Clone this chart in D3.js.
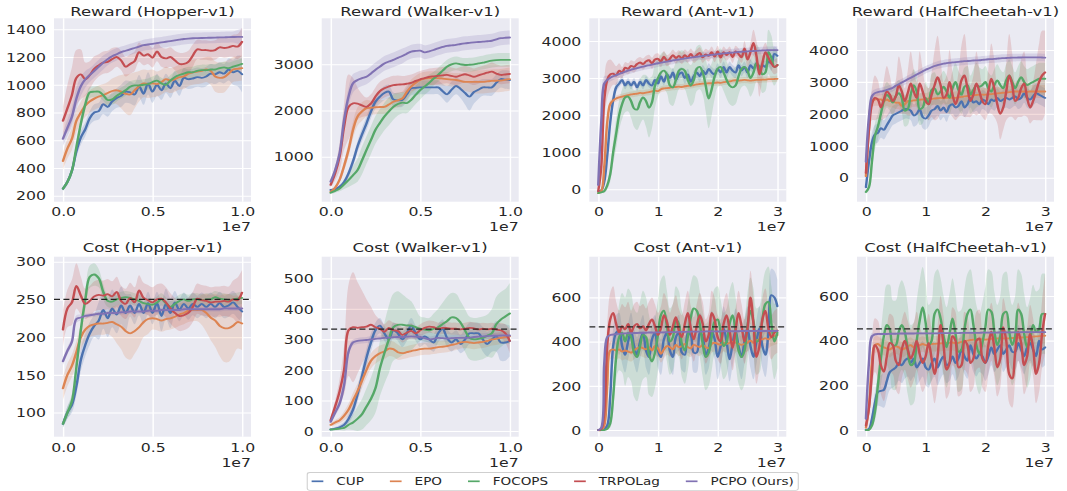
<!DOCTYPE html>
<html><head><meta charset="utf-8">
<script src="https://cdn.jsdelivr.net/npm/d3@7"></script>
<style>html,body{margin:0;padding:0;background:#fff;overflow:hidden}</style>
</head><body>
<script>
// ---------------- DATA ----------------
const seriesNames = ["CUP","EPO","FOCOPS","TRPOLag","PCPO (Ours)"];
const seriesColors = ["#4C72B0","#DD8452","#55A868","#C44E52","#8172B3"];
const panelTitles = ["Reward (Hopper-v1)","Reward (Walker-v1)","Reward (Ant-v1)","Reward (HalfCheetah-v1)",
                     "Cost (Hopper-v1)","Cost (Walker-v1)","Cost (Ant-v1)","Cost (HalfCheetah-v1)"];
const xTicksShort = [0, 0.5, 1.0];
const xLabelsShort = ["0.0","0.5","1.0"];
const xTicksLong = [0, 1, 2, 3];
const xLabelsLong = ["0","1","2","3"];
const offsetLabel = "1e7";
const yTicksRHop = [200,400,600,800,1000,1200,1400];
const yTicksRWalk = [1000,2000,3000];
const yTicksRAnt = [0,1000,2000,3000,4000];
const yTicksRHC = [0,1000,2000,3000,4000];
const yTicksCHop = [100,150,200,250,300];
const yTicksCWalk = [0,100,200,300,400,500];
const yTicksCAnt = [0,200,400,600];
const yTicksCHC = [0,200,400,600];
const costLimits = [250, 334, 467, 453];

// Reward Hopper (step 0.025e7)
const rHopCUP = [250,300,380,520,620,680,760,800,810,860,840,880,905,920,950,945,930,990,935,1010,950,1000,960,1010,975,1030,990,1050,1040,1045,1055,1050,1060,1080,1075,1090,1080,1110,1090,1100,1075];
const rHopCUPsd = [15,20,30,40,50,50,50,60,60,70,70,70,70,80,80,80,80,80,80,80,80,80,70,70,70,70,70,70,70,70,70,70,70,70,70,70,70,80,90,110,130];
const rHopEPO = [450,540,610,740,800,850,880,900,915,925,940,955,960,950,935,930,960,990,1010,1005,1010,1005,1020,1040,1030,1040,1055,1060,1080,1090,1095,1100,1110,1100,1060,1050,1055,1080,1110,1115,1120];
const rHopEPOsd = [60,70,80,80,80,80,80,80,80,80,80,90,100,120,140,150,130,110,100,100,100,90,90,90,90,90,90,90,90,90,90,90,90,100,110,110,110,100,90,90,90];
const rHopFOC = [250,300,380,550,720,860,945,950,950,925,890,895,920,940,960,985,995,995,1000,1005,1020,1030,1010,1000,1030,1055,1070,1080,1090,1090,1100,1105,1105,1110,1110,1120,1125,1120,1130,1140,1150];
const rHopFOCsd = [15,20,30,40,40,40,40,40,40,40,40,40,40,40,40,40,40,40,40,40,40,40,40,40,40,40,40,40,40,40,40,40,40,40,40,40,40,40,40,40,40];
const rHopTRP = [740,830,925,1050,1075,1040,1070,1115,1140,1160,1165,1185,1200,1175,1130,1150,1170,1235,1210,1220,1195,1240,1200,1190,1200,1175,1150,1150,1165,1210,1255,1250,1250,1245,1250,1270,1265,1270,1280,1275,1310];
const rHopTRPsd = [100,170,200,200,180,120,100,90,80,80,80,80,70,70,70,70,70,70,70,70,70,70,70,70,70,70,80,80,80,80,70,70,70,70,70,70,70,70,80,90,100];
const rHopPCPO = [610,690,770,900,990,1040,1070,1100,1130,1160,1185,1205,1220,1235,1245,1255,1265,1275,1285,1290,1295,1300,1305,1310,1315,1320,1325,1330,1333,1335,1336,1337,1338,1339,1340,1341,1342,1343,1344,1345,1345];
const rHopPCPOsd = [50,60,70,80,70,60,50,50,50,50,45,45,45,40,40,40,40,40,40,40,40,40,40,40,40,40,40,40,40,40,40,40,40,40,40,40,40,40,40,50,60];

// Reward Walker (step 0.025e7)
const rWalkCUP = [280,300,350,450,640,900,1220,1480,1720,1980,2190,2300,2380,2410,2240,2220,2230,2350,2480,2490,2500,2500,2500,2500,2500,2420,2350,2450,2530,2470,2380,2300,2400,2450,2500,2500,2500,2600,2680,2670,2660];
const rWalkCUPsd = [30,30,40,60,80,100,120,140,150,150,150,150,150,150,150,150,150,150,150,150,150,150,150,150,150,160,180,180,180,200,250,300,250,200,180,180,180,180,180,200,200];
const rWalkEPO = [240,330,500,800,1150,1580,1870,1980,2050,2060,2070,2075,2080,2130,2190,2220,2260,2400,2520,2600,2660,2690,2700,2700,2700,2690,2680,2670,2660,2640,2620,2620,2620,2620,2620,2630,2640,2645,2650,2665,2680];
const rWalkEPOsd = [30,40,60,100,150,180,200,200,180,150,150,150,150,150,150,150,150,150,150,150,150,150,150,150,150,150,150,150,150,170,200,220,250,250,250,250,250,250,250,250,250];
const rWalkFOC = [220,260,310,400,495,600,710,920,1145,1360,1580,1730,1870,1980,2080,2140,2170,2160,2230,2340,2440,2520,2600,2690,2770,2860,2950,3000,3020,3000,2985,2990,3000,3020,3035,3060,3080,3090,3095,3095,3095];
const rWalkFOCsd = [30,40,60,100,150,200,250,300,300,300,300,300,300,300,280,250,230,220,200,200,200,180,180,150,150,150,150,150,150,150,150,150,150,150,150,150,150,150,150,150,150];
const rWalkTRP = [390,640,1000,1650,2080,2155,2150,2110,2080,2150,2300,2420,2480,2520,2550,2560,2565,2580,2600,2640,2675,2700,2730,2740,2750,2760,2770,2750,2730,2760,2785,2760,2730,2760,2790,2820,2840,2800,2770,2780,2790];
const rWalkTRPsd = [60,150,300,500,700,550,350,250,200,200,200,200,200,200,200,200,180,180,180,180,180,180,180,180,180,180,180,180,180,180,180,180,180,180,180,180,200,200,200,200,200];
const rWalkPCPO = [460,710,1070,1795,2300,2590,2660,2700,2730,2800,2880,2950,3020,3060,3095,3140,3180,3230,3275,3290,3295,3260,3280,3310,3345,3375,3400,3410,3420,3440,3455,3465,3475,3482,3490,3500,3510,3540,3565,3575,3580];
const rWalkPCPOsd = [60,80,100,150,200,200,180,170,160,160,160,160,160,160,160,160,160,150,150,150,150,150,150,150,150,150,150,150,150,150,150,150,150,150,150,150,150,150,150,150,150];

// Reward Ant (step 0.05e7)
const rAntCUP = [-50,-30,200,900,1800,2400,2750,2850,2950,2800,2900,2800,2900,2750,2900,2800,2950,2850,2800,2950,2850,3050,2900,3100,3000,3150,2950,3100,3150,3000,3100,2900,3050,3150,3050,3200,3100,3250,3150,3100,3250,3150,3300,3150,3300,3200,3150,3350,3200,3300,3150,3350,3250,3400,3200,3350,3300,3450,3400,3650,3600];
const rAntCUPsd = [20,20,50,100,150,150,120,100,100,100,100,100,100,100,100,100,100,100,100,100,100,100,100,100,100,120,150,150,150,150,150,150,150,150,150,150,150,150,150,150,150,150,150,150,150,150,150,150,150,150,150,150,150,150,150,150,150,150,200,200,200];
const rAntEPO = [-100,-50,600,1800,2300,2400,2450,2480,2500,2520,2540,2560,2570,2580,2600,2590,2610,2620,2640,2660,2650,2700,2720,2730,2740,2750,2760,2770,2760,2780,2790,2800,2810,2830,2840,2850,2850,2860,2860,2870,2880,2870,2890,2900,2910,2930,2940,2930,2940,2950,2940,2930,2940,2950,2950,2960,2960,2970,2970,2975,2980];
const rAntEPOsd = [20,50,100,150,100,80,80,80,80,80,80,80,80,80,80,80,80,80,80,80,80,80,80,80,80,80,80,80,80,80,80,80,80,80,80,80,80,80,80,80,80,80,80,80,80,80,80,80,80,80,80,80,80,80,80,80,80,80,80,80,80];
const rAntFOC = [-100,-80,-50,100,400,1000,1500,2000,2300,2480,2500,2380,2180,2150,2350,2480,2380,2200,2350,2800,3000,3150,3200,3100,2800,2750,2950,3200,3250,3200,2950,2800,2950,3250,3300,3150,2800,2450,2700,3050,3250,3300,3150,2950,2800,2750,2800,3050,3250,3300,3200,3000,3150,3400,3300,3100,3150,3700,3550,3300,3350];
const rAntFOCsd = [20,20,50,100,200,300,400,400,400,400,400,450,500,550,600,600,700,800,700,600,500,500,500,500,500,500,500,500,500,500,500,550,600,600,600,600,700,800,700,600,500,500,500,500,500,500,500,500,500,500,500,500,500,500,500,500,500,600,600,500,400];
const rAntTRP = [-50,600,2400,2950,3100,3120,3070,3200,3150,3280,3250,3330,3300,3380,3420,3380,3450,3480,3400,3500,3520,3450,3580,3470,3520,3620,3540,3600,3530,3620,3560,3650,3560,3620,3680,3560,3640,3600,3700,3580,3720,3550,3700,3620,3700,3560,3720,3650,3560,3800,3500,3700,3950,3600,3100,3400,3700,3550,3400,3300,3350];
const rAntTRPsd = [50,300,500,500,400,300,250,200,150,150,150,150,150,150,150,150,150,150,150,150,150,150,150,150,150,150,150,150,150,150,150,150,150,150,150,150,150,150,150,150,150,150,150,150,150,150,150,150,150,200,200,250,350,400,600,400,250,200,200,200,200];
const rAntPCPO = [120,1800,2850,2950,3010,3050,3080,3110,3140,3170,3200,3225,3250,3270,3290,3310,3330,3345,3360,3380,3400,3415,3430,3445,3460,3475,3490,3500,3515,3530,3540,3550,3565,3575,3585,3595,3605,3615,3625,3635,3645,3655,3665,3672,3680,3688,3695,3702,3710,3715,3720,3725,3730,3735,3740,3745,3748,3750,3752,3755,3755];
const rAntPCPOsd = [50,300,200,120,100,100,100,100,100,100,100,100,100,100,100,100,100,100,100,100,100,100,100,100,100,100,100,100,100,100,100,100,100,100,100,100,100,100,100,100,100,100,100,100,100,100,100,100,100,100,100,100,100,100,100,100,100,100,100,100,100];

// Reward HalfCheetah (step 0.05e7)
const rHCCUP = [-300,500,1100,1350,1400,1550,1500,1650,1800,1950,2000,2050,2100,2150,2150,2100,1950,2000,2150,1900,1850,1950,2100,2150,2250,2100,2200,2050,2250,2300,2200,2250,2400,2200,2300,2500,2350,2400,2300,2450,2400,2300,2450,2400,2500,2400,2450,2500,2450,2500,2550,2450,2500,2650,2500,2450,2550,2650,2600,2550,2500];
const rHCCUPsd = [100,200,300,300,300,300,300,300,300,300,300,300,300,300,300,300,350,350,350,350,350,350,300,300,300,300,300,300,300,300,300,300,300,300,300,300,300,300,300,300,300,300,300,300,300,300,300,300,300,300,300,300,300,300,300,300,300,300,300,300,300];
const rHCEPO = [50,1500,2400,2450,2450,2450,2400,2450,2400,2400,2350,2350,2250,2300,2400,2400,2420,2430,2440,2450,2450,2480,2470,2480,2490,2500,2490,2500,2510,2500,2500,2520,2530,2550,2560,2570,2580,2590,2600,2600,2600,2610,2620,2630,2640,2650,2660,2670,2680,2690,2700,2700,2700,2700,2690,2700,2700,2700,2700,2700,2700];
const rHCEPOsd = [50,200,200,200,200,200,200,200,200,200,200,200,200,200,200,200,200,200,200,200,200,200,200,200,200,200,200,200,200,200,200,200,200,200,200,200,200,200,200,200,200,200,200,200,200,200,200,200,200,200,200,200,200,200,200,200,200,200,200,200,200];
const rHCFOC = [-450,-300,500,1300,1600,2000,2400,2600,2500,2350,2550,2650,2500,2100,2150,2600,2900,2700,2150,2200,2500,2300,2750,2800,2600,2700,2850,2700,2500,2800,3000,2750,2600,2850,2900,2600,2750,2900,2850,2900,3000,2800,2700,2900,3050,2900,2800,3050,3200,3000,2800,3000,3150,3000,2900,2950,3000,3050,3100,3100,3100];
const rHCFOCsd = [50,100,300,400,400,400,400,400,400,400,400,400,450,500,500,500,500,500,500,500,500,500,500,500,500,500,500,500,500,550,600,600,600,600,600,600,650,700,600,500,500,500,500,500,500,500,500,500,500,500,500,500,500,500,500,500,500,500,500,500,500];
const rHCTRP = [150,1500,2300,2500,2450,2200,2450,2700,2600,2400,2550,2900,2700,2400,2650,2950,2700,2500,2950,2700,2400,2300,2600,2900,3150,2900,2500,2600,3000,2600,2300,2600,3050,3200,2800,2400,2600,2950,2700,2400,2300,2700,3100,2800,2300,2000,2200,2700,3200,2900,2400,2500,2800,2950,2500,2200,2400,2700,3000,3200,3300];
const rHCTRPsd = [100,300,500,700,600,400,600,800,600,400,500,900,700,400,700,1000,700,500,1000,700,500,500,700,1100,1300,900,500,600,1000,700,500,700,1100,1300,900,500,600,1000,700,500,500,700,1100,900,600,800,700,900,1300,1000,600,600,900,1000,600,500,600,900,1200,1400,1300];
const rHCPCPO = [500,1900,2550,2650,2680,2700,2720,2750,2780,2820,2880,2930,2980,3030,3080,3130,3180,3230,3280,3330,3380,3420,3460,3500,3530,3550,3570,3590,3600,3610,3620,3630,3640,3650,3655,3660,3670,3675,3680,3690,3700,3710,3715,3720,3730,3740,3745,3750,3755,3760,3760,3765,3765,3770,3770,3770,3770,3770,3770,3765,3760];
const rHCPCPOsd = [100,200,150,120,120,120,120,120,120,120,120,120,120,120,120,120,120,120,120,120,120,120,120,120,120,120,120,120,120,120,120,120,120,120,120,120,120,120,120,120,120,120,120,120,120,120,120,120,120,120,120,120,120,120,120,120,120,120,120,120,120];

// Cost Hopper (step 0.025e7)
const cHopCUP = [85,100,110,135,170,190,205,215,222,236,225,238,230,242,232,242,232,244,232,245,232,245,228,244,232,246,236,244,238,244,240,244,240,244,240,245,240,242,246,240,234];
const cHopCUPsd = [5,8,10,12,15,15,15,15,25,25,25,25,25,25,25,15,15,15,15,15,15,15,20,20,20,15,15,15,15,15,15,15,15,15,15,15,15,15,15,15,15];
const cHopEPO = [132,150,162,180,200,210,215,217,218,218,219,220,217,214,208,205,208,213,220,224,225,224,222,224,225,227,230,232,235,236,236,236,232,226,222,215,212,212,215,220,218];
const cHopEPOsd = [15,15,15,15,15,15,15,15,15,15,15,20,25,30,35,35,30,25,20,20,15,15,15,15,15,15,15,15,15,15,15,20,25,30,35,40,45,45,40,35,35];
const cHopFOC = [85,100,115,160,210,250,280,283,278,260,248,247,250,252,253,252,250,248,245,244,243,246,250,245,240,244,248,250,248,250,250,249,250,250,253,251,250,249,250,251,252];
const cHopFOCsd = [5,8,10,12,12,12,15,15,12,10,8,8,8,8,8,8,8,8,8,8,8,8,8,8,8,8,8,8,8,8,8,8,8,8,8,8,8,8,8,8,8];
const cHopTRP = [210,238,246,268,255,244,248,254,256,255,257,254,260,248,244,252,246,262,252,249,246,250,251,246,238,232,228,229,232,240,251,249,248,246,247,247,248,247,250,249,259];
const cHopTRPsd = [25,25,30,30,25,20,20,20,20,20,20,20,20,20,20,20,20,20,20,20,20,20,20,20,20,20,20,20,20,20,20,20,20,20,20,20,20,20,25,30,30];
const cHopPCPO = [168,182,194,224,226,228,229,230,231,231,232,232,232,233,233,234,234,234,234,235,235,235,236,236,236,236,236,237,237,237,237,237,237,237,237,237,238,238,238,238,238];
const cHopPCPOsd = [5,5,5,5,4,3,3,3,3,3,3,3,3,3,3,3,3,3,3,3,3,3,3,3,3,3,3,3,3,3,3,3,3,3,3,3,3,3,3,3,3];

// Cost Walker (step 0.025e7)
const cWalkCUP = [5,8,12,20,40,70,120,180,240,290,330,345,320,300,330,320,300,320,345,320,300,310,300,290,320,335,305,290,300,285,300,320,320,320,300,285,300,310,290,290,295];
const cWalkCUPsd = [3,5,8,10,15,20,25,30,30,30,25,25,25,25,25,25,25,25,25,25,25,25,30,30,30,30,30,30,30,30,35,35,35,35,40,40,40,50,60,60,50];
const cWalkEPO = [20,28,35,50,70,100,130,165,200,230,245,255,260,270,268,258,255,258,262,265,268,270,270,272,275,276,278,282,285,290,292,290,288,290,292,295,300,302,305,308,310];
const cWalkEPOsd = [5,8,10,15,20,25,25,25,25,25,25,25,25,25,25,25,20,20,20,20,20,20,20,20,20,20,20,20,20,20,20,20,20,20,20,20,20,20,20,20,20];
const cWalkFOC = [5,6,8,10,20,28,40,55,80,105,140,205,255,300,340,348,348,346,345,340,335,332,330,335,340,350,360,372,370,355,330,305,300,302,305,312,320,350,365,375,385];
const cWalkFOCsd = [3,4,5,8,15,25,40,50,60,70,80,90,100,110,110,110,100,90,80,60,40,40,40,50,60,70,80,80,80,70,70,70,70,70,70,70,80,90,90,90,100];
const cWalkTRP = [35,80,130,200,330,340,338,340,342,348,340,335,325,338,330,328,315,322,328,320,330,338,342,340,335,338,337,335,335,333,335,338,336,333,335,333,335,332,330,320,295];
const cWalkTRPsd = [10,20,40,80,150,180,150,120,90,60,40,30,25,25,25,25,25,25,25,20,20,20,20,20,20,20,20,20,20,20,20,20,20,20,20,20,20,20,25,30,40];
const cWalkPCPO = [30,60,90,150,260,290,295,297,298,300,302,303,305,306,307,308,308,309,310,309,308,304,300,302,305,304,303,304,305,305,305,306,308,309,310,311,312,312,313,313,313];
const cWalkPCPOsd = [5,10,15,20,15,10,10,10,10,10,10,10,10,10,10,10,10,10,10,10,10,10,10,10,10,10,10,10,10,10,10,10,10,10,10,10,10,10,10,10,10];

// Cost Ant (step 0.05e7)
const cAntCUP = [0,0,5,20,150,380,440,450,380,340,400,450,380,340,400,440,360,330,410,440,360,330,410,440,360,330,420,440,350,340,440,430,350,350,440,420,340,370,450,410,330,380,460,400,320,390,450,380,330,400,460,380,330,400,460,380,340,440,610,600,560];
const cAntCUPsd = [2,2,5,20,60,80,80,80,80,80,80,80,80,80,80,80,80,80,80,80,80,80,80,80,80,80,80,80,80,80,90,90,90,90,90,90,90,90,90,90,100,100,100,100,100,100,100,100,100,100,100,100,100,100,100,100,100,100,120,120,120];
const cAntEPO = [0,0,20,200,360,365,360,365,355,360,355,350,360,370,375,370,365,375,360,380,370,345,365,380,375,365,385,375,380,390,375,370,385,380,375,385,375,370,390,395,390,385,395,390,395,400,395,390,385,390,395,405,395,405,410,410,415,410,420,425,430];
const cAntEPOsd = [1,1,10,40,40,40,40,40,40,40,40,40,40,40,40,40,40,40,40,40,40,40,40,40,40,40,40,40,40,40,40,40,40,40,40,40,40,40,40,40,40,40,40,40,40,40,40,40,40,40,40,40,40,40,40,40,40,40,40,40,40];
const cAntFOC = [0,0,0,5,30,150,330,420,440,400,440,420,350,330,380,430,420,340,310,350,430,520,540,470,400,420,500,480,390,360,420,510,550,540,480,390,330,350,420,490,500,440,380,400,480,520,450,360,330,360,470,540,490,400,410,500,570,580,480,400,440];
const cAntFOCsd = [0,0,0,5,20,60,100,150,180,200,200,200,200,200,200,200,180,180,160,160,160,160,160,160,150,150,150,150,150,150,150,150,150,150,150,150,150,150,150,150,150,150,150,150,150,150,150,150,150,150,150,150,150,150,150,150,150,160,170,170,160];
const cAntTRP = [0,5,80,380,500,530,480,440,470,455,480,440,470,480,460,470,450,480,500,470,430,460,520,490,430,470,510,450,420,480,530,460,410,470,520,480,400,430,530,500,420,400,480,520,450,370,450,530,470,400,460,600,480,330,380,500,540,460,420,440,450];
const cAntTRPsd = [2,5,40,100,120,120,100,100,100,100,100,100,100,100,100,100,100,100,100,100,100,100,100,100,100,100,100,100,100,100,100,100,100,100,100,100,100,100,100,100,100,100,100,100,100,100,100,100,100,100,100,120,120,120,100,100,100,100,100,100,100];
const cAntPCPO = [0,10,300,420,430,432,434,435,436,437,438,438,439,439,440,440,440,441,441,441,442,442,442,443,443,443,443,444,444,444,444,445,445,445,445,445,446,446,446,446,446,446,447,447,447,447,447,447,448,448,448,448,448,448,448,448,448,448,448,448,448];
const cAntPCPOsd = [1,5,20,8,6,6,6,6,6,6,6,6,6,6,6,6,6,6,6,6,6,6,6,6,6,6,6,6,6,6,6,6,6,6,6,6,6,6,6,6,6,6,6,6,6,6,6,6,6,6,6,6,6,6,6,6,6,6,6,6,6];

// Cost HalfCheetah (step 0.05e7)
const cHCCUP = [0,5,50,120,170,175,180,220,260,270,280,300,290,310,320,300,320,280,300,320,280,270,300,320,280,310,330,290,300,330,300,320,360,330,310,380,340,320,340,330,300,330,370,340,360,380,340,360,380,350,350,390,360,330,370,390,360,330,400,360,370];
const cHCCUPsd = [2,5,30,50,60,70,80,80,80,80,80,80,80,80,80,80,80,80,80,80,80,80,80,80,80,80,80,80,80,80,80,80,80,80,80,80,80,80,80,80,80,80,80,80,80,80,80,80,80,80,80,80,80,80,80,80,80,80,80,80,80];
const cHCEPO = [10,100,300,380,385,375,370,365,360,370,375,370,360,365,375,380,370,375,380,385,380,382,385,386,387,388,389,390,390,392,388,390,395,398,400,403,405,405,405,407,405,406,408,408,410,410,410,410,411,412,412,413,414,415,416,417,418,419,420,421,422];
const cHCEPOsd = [5,30,50,40,35,35,35,35,35,35,35,35,35,35,35,35,35,35,35,35,35,35,35,35,35,35,35,35,35,35,35,35,35,35,35,35,35,35,35,35,35,35,35,35,35,35,35,35,35,35,35,35,35,35,35,35,35,35,35,35,35];
const cHCFOC = [0,0,20,80,200,320,420,470,450,380,380,440,470,440,360,290,300,400,490,550,480,380,400,520,540,500,420,370,430,500,430,350,360,450,520,540,470,380,340,390,460,540,530,440,380,420,520,530,440,380,420,540,520,430,370,410,470,440,450,520,520];
const cHCFOCsd = [0,0,10,40,80,120,150,180,200,200,200,200,200,200,200,180,180,180,180,180,180,180,180,180,180,180,180,180,180,180,180,180,180,180,180,180,180,180,180,180,180,180,180,180,180,180,180,180,180,180,180,180,180,180,180,180,180,180,180,180,180];
const cHCTRP = [20,100,250,380,360,290,260,330,390,380,310,290,360,400,360,320,350,400,340,300,330,390,320,250,330,470,380,270,300,420,400,280,290,400,380,300,320,400,410,320,300,380,440,370,280,320,460,400,250,230,350,440,390,290,330,430,370,250,300,430,520];
const cHCTRPsd = [10,40,80,120,130,130,130,130,130,130,130,130,130,130,130,130,130,130,130,130,130,130,130,130,130,130,130,130,130,130,130,130,130,130,130,130,130,130,130,130,130,130,130,130,130,130,130,130,130,130,130,130,130,130,130,130,130,130,130,150,180];
const cHCPCPO = [50,300,420,428,430,430,430,430,431,431,431,432,432,432,432,432,432,433,433,433,433,433,433,433,433,434,434,434,434,434,434,434,435,435,435,435,435,435,435,436,436,436,436,436,436,437,437,437,437,437,437,437,438,438,438,438,438,438,438,438,438];
const cHCPCPOsd = [20,40,15,6,5,5,5,5,5,5,5,5,5,5,5,5,5,5,5,5,5,5,5,5,5,5,5,5,5,5,5,5,5,5,5,5,5,5,5,5,5,5,5,5,5,5,5,5,5,5,5,5,5,5,5,5,5,5,5,5,5];

// ---------------- LAYOUT (screen px; stretched horizontally by S) ----------------
const S = 1.33, W = 1067, H = 491;
const FONT = "'DejaVu Sans', sans-serif";
const TXT = "#262626";
const colLeft = [54, 321.7, 589.3, 857];
const plotWpx = 197;
const rowTop = [18.3, 256.7];
const rowH = [183.4, 180];
const titleBase = [15.5, 252];
const xLabBase = [216, 452];
const offBase = [231, 467];

const panels = [
  {row:0,col:0,step:0.025,xd:[-0.05,1.05],xt:xTicksShort,xl:xLabelsShort,yd:[157,1479],yt:yTicksRHop,
   s:[[rHopCUP,rHopCUPsd],[rHopEPO,rHopEPOsd],[rHopFOC,rHopFOCsd],[rHopTRP,rHopTRPsd],[rHopPCPO,rHopPCPOsd]]},
  {row:0,col:1,step:0.025,xd:[-0.05,1.05],xt:xTicksShort,xl:xLabelsShort,yd:[26,3996],yt:yTicksRWalk,
   s:[[rWalkCUP,rWalkCUPsd],[rWalkEPO,rWalkEPOsd],[rWalkFOC,rWalkFOCsd],[rWalkTRP,rWalkTRPsd],[rWalkPCPO,rWalkPCPOsd]]},
  {row:0,col:2,step:0.05,xd:[-0.15,3.15],xt:xTicksLong,xl:xLabelsLong,yd:[-334,4612],yt:yTicksRAnt,
   s:[[rAntCUP,rAntCUPsd],[rAntEPO,rAntEPOsd],[rAntFOC,rAntFOCsd],[rAntTRP,rAntTRPsd],[rAntPCPO,rAntPCPOsd]]},
  {row:0,col:3,step:0.05,xd:[-0.15,3.15],xt:xTicksLong,xl:xLabelsLong,yd:[-752,4993],yt:yTicksRHC,
   s:[[rHCCUP,rHCCUPsd],[rHCEPO,rHCEPOsd],[rHCFOC,rHCFOCsd],[rHCTRP,rHCTRPsd],[rHCPCPO,rHCPCPOsd]]},
  {row:1,col:0,step:0.025,xd:[-0.05,1.05],xt:xTicksShort,xl:xLabelsShort,yd:[68,306.6],yt:yTicksCHop,limit:costLimits[0],
   s:[[cHopCUP,cHopCUPsd],[cHopEPO,cHopEPOsd],[cHopFOC,cHopFOCsd],[cHopTRP,cHopTRPsd],[cHopPCPO,cHopPCPOsd]]},
  {row:1,col:1,step:0.025,xd:[-0.05,1.05],xt:xTicksShort,xl:xLabelsShort,yd:[-18.7,571],yt:yTicksCWalk,limit:costLimits[1],
   s:[[cWalkCUP,cWalkCUPsd],[cWalkEPO,cWalkEPOsd],[cWalkFOC,cWalkFOCsd],[cWalkTRP,cWalkTRPsd],[cWalkPCPO,cWalkPCPOsd]]},
  {row:1,col:2,step:0.05,xd:[-0.15,3.15],xt:xTicksLong,xl:xLabelsLong,yd:[-30,784],yt:yTicksCAnt,limit:costLimits[2],
   s:[[cAntCUP,cAntCUPsd],[cAntEPO,cAntEPOsd],[cAntFOC,cAntFOCsd],[cAntTRP,cAntTRPsd],[cAntPCPO,cAntPCPOsd]]},
  {row:1,col:3,step:0.05,xd:[-0.15,3.15],xt:xTicksLong,xl:xLabelsLong,yd:[-30,776],yt:yTicksCHC,limit:costLimits[3],
   s:[[cHCCUP,cHCCUPsd],[cHCEPO,cHCEPOsd],[cHCFOC,cHCFOCsd],[cHCTRP,cHCTRPsd],[cHCPCPO,cHCPCPOsd]]}
];

const svg = d3.select("body").append("svg")
  .attr("width", W).attr("height", H)
  .attr("viewBox", `0 0 ${W/S} ${H}`)
  .attr("preserveAspectRatio", "none")
  .style("display","block");
svg.append("rect").attr("width", W/S).attr("height", H).attr("fill", "#fff");

panels.forEach((p, pi) => {
  const x0 = colLeft[p.col] / S, w = plotWpx / S;
  const y0 = rowTop[p.row], h = rowH[p.row];
  const g = svg.append("g").attr("transform", `translate(${x0},${y0})`);
  g.append("rect").attr("width", w).attr("height", h).attr("fill", "#EAEAF2");

  const x = d3.scaleLinear().domain(p.xd).range([0, w]);
  const y = d3.scaleLinear().domain(p.yd).range([h, 0]);

  const xa = g.append("g").attr("transform", `translate(0,${h})`)
    .call(d3.axisBottom(x).tickValues(p.xt).tickFormat((d, i) => p.xl[i]).tickSize(-h).tickPadding(0));
  xa.select(".domain").remove();
  xa.attr("font-family", FONT).attr("font-size", 11.8);
  xa.selectAll(".tick line").attr("stroke", "#fff").attr("stroke-width", 1.1);
  xa.selectAll(".tick text").attr("y", xLabBase[p.row] - y0 - h).attr("dy", null).attr("fill", TXT);

  const ya = g.append("g")
    .call(d3.axisLeft(y).tickValues(p.yt).tickFormat(d3.format("d")).tickSize(-w).tickPadding(6));
  ya.select(".domain").remove();
  ya.attr("font-family", FONT).attr("font-size", 11.8);
  ya.selectAll(".tick line").attr("stroke", "#fff").attr("stroke-width", 1.1);
  ya.selectAll(".tick text").attr("dy", "0.36em").attr("fill", TXT);

  const clipId = "clip" + pi;
  g.append("clipPath").attr("id", clipId).append("rect").attr("width", w).attr("height", h);
  const plot = g.append("g").attr("clip-path", `url(#${clipId})`);

  const rows = p.s.map(([m, sd]) => m.map((v, i) => ({
    x: i * p.step, m: v, s: sd[Math.min(i, sd.length - 1)]
  })));
  const area = d3.area().x(d => x(d.x)).y0(d => y(d.m - d.s)).y1(d => y(d.m + d.s)).curve(d3.curveCatmullRom);
  const line = d3.line().x(d => x(d.x)).y(d => y(d.m)).curve(d3.curveCatmullRom);

  rows.forEach((r, k) => {
    plot.append("path").attr("d", area(r)).attr("fill", seriesColors[k]).attr("fill-opacity", 0.2).attr("stroke", "none");
  });
  rows.forEach((r, k) => {
    plot.append("path").attr("d", line(r)).attr("fill", "none").attr("stroke", seriesColors[k])
      .attr("stroke-width", 1.85).attr("stroke-linejoin", "round").attr("stroke-linecap", "round");
  });

  if (p.limit != null) {
    plot.append("line").attr("x1", 0).attr("x2", w).attr("y1", y(p.limit)).attr("y2", y(p.limit))
      .attr("stroke", "#222").attr("stroke-width", 1.2).attr("stroke-dasharray", "4.5,2.6");
  }

  g.append("text").attr("x", w / 2).attr("y", titleBase[p.row] - y0)
    .attr("text-anchor", "middle").attr("font-family", FONT).attr("font-size", 12.4)
    .attr("fill", TXT).text(panelTitles[pi]);

  g.append("text").attr("x", w).attr("y", offBase[p.row] - y0)
    .attr("text-anchor", "end").attr("font-family", FONT).attr("font-size", 11.8)
    .attr("fill", TXT).text(offsetLabel);
});

// ---------------- LEGEND ----------------
const legFont = 10.2;
const leg = svg.append("g");
const box = leg.append("rect");
const lineLen = 8.8, lineGap = 9.8, itemGap = 19.5, pad = 3.3;
let cx = 0;
const items = seriesNames.map((name, k) => {
  const it = leg.append("g");
  it.append("line").attr("x1", 0).attr("x2", lineLen).attr("y1", 0).attr("y2", 0)
    .attr("stroke", seriesColors[k]).attr("stroke-width", 1.7);
  const t = it.append("text").attr("x", lineLen + lineGap).attr("y", 0).attr("dy", "0.36em")
    .attr("font-family", FONT).attr("font-size", legFont).attr("fill", TXT).text(name);
  const wdt = lineLen + lineGap + t.node().getComputedTextLength();
  const pos = cx;
  cx += wdt + itemGap;
  return {it, pos};
});
const totalW = cx - itemGap;
const boxW = totalW + 2 * pad;
const centerX = 552.75 / S;
const bx = centerX - boxW / 2;
const legY = 481.3;
box.attr("x", bx).attr("y", 472.5).attr("width", boxW).attr("height", 17.8)
  .attr("rx", 2).attr("fill", "#fff").attr("fill-opacity", 0.85)
  .attr("stroke", "#cfcfcf").attr("stroke-width", 0.8);
items.forEach(({it, pos}) => it.attr("transform", `translate(${bx + pad + pos},${legY})`));
</script>
</body></html>
